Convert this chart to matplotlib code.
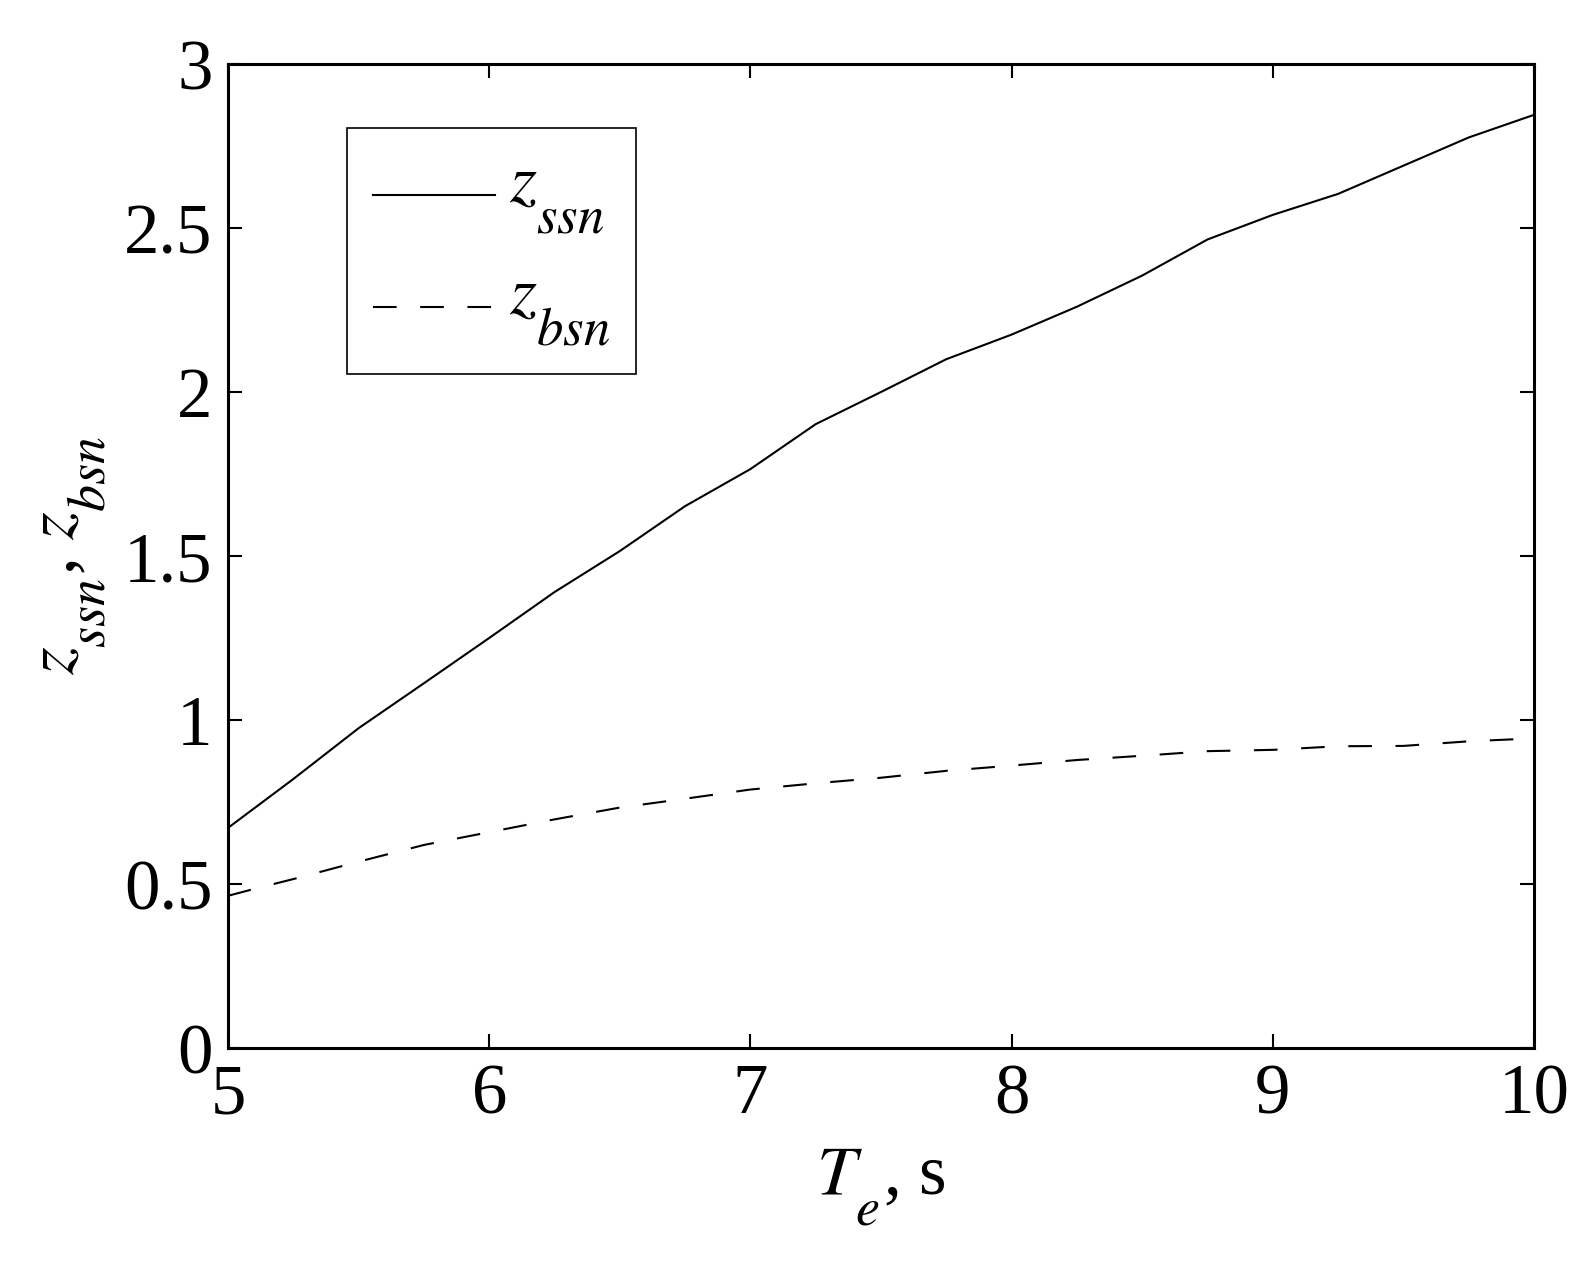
import matplotlib
matplotlib.use("Agg")
import numpy as np
import matplotlib.pyplot as plt
from matplotlib.legend_handler import HandlerLine2D

plt.rcParams['font.family'] = ['Liberation Serif', 'DejaVu Serif']
plt.rcParams['mathtext.fontset'] = 'stix'
plt.rcParams['lines.scale_dashes'] = False

# Deeper, larger subscripts (MATLAB-like look)
try:
    import matplotlib._mathtext as _mt
    _mt.STIXFontConstants.sub1 = 1.0
    _mt.STIXFontConstants.script_space = 0.12
    _mt.SHRINK_FACTOR = 0.76
except Exception:
    pass

# Data
Te = [5.0, 5.25, 5.5, 5.75, 6.0, 6.25, 6.5, 6.75, 7.0, 7.25, 7.5,
      7.75, 8.0, 8.25, 8.5, 8.75, 9.0, 9.25, 9.5, 9.75, 10.0]
z_ssn = [0.671, 0.82, 0.975, 1.112, 1.25, 1.39, 1.515, 1.652, 1.765, 1.902, 2.0,
         2.10, 2.175, 2.26, 2.355, 2.465, 2.54, 2.604, 2.69, 2.776, 2.845]
Te_b = [5.0, 5.1, 5.25, 5.5, 5.75, 6.0, 6.25, 6.5, 6.75, 7.0, 7.25, 7.5,
        7.75, 8.0, 8.25, 8.5, 8.75, 9.0, 9.25, 9.5, 9.75, 10.0]
z_bsn = [0.464, 0.485, 0.515, 0.568, 0.619, 0.658, 0.697, 0.733, 0.760, 0.788, 0.807, 0.824,
         0.845, 0.861, 0.878, 0.891, 0.905, 0.909, 0.920, 0.921, 0.935, 0.944]
xticks = [5, 6, 7, 8, 9, 10]
yticks = [0, 0.5, 1, 1.5, 2, 2.5, 3]
ytick_labels = ['0', '0.5', '1', '1.5', '2', '2.5', '3']


class LoweredLine(HandlerLine2D):
    """Legend line handler drawn a little lower (aligned with z's middle)."""
    def __init__(self, shift=12, **kw):
        super().__init__(**kw)
        self.shift = shift

    def create_artists(self, legend, orig_handle, xdescent, ydescent, width,
                       height, fontsize, trans):
        arts = super().create_artists(legend, orig_handle, xdescent, ydescent,
                                      width, height, fontsize, trans)
        for a in arts:
            a.set_ydata(np.asarray(a.get_ydata(), dtype=float) - self.shift)
        return arts


W, H = 1584, 1273
fig = plt.figure(figsize=(W / 100, H / 100), dpi=100)
ax = fig.add_axes([228 / W, 1 - 1048 / H, (1534 - 228) / W, (1048 - 64) / H])

lw = 1.5
l1, = ax.plot(Te, z_ssn, color='black', lw=lw, linestyle='-', label=r'$z_{ssn}$')
l2, = ax.plot(Te_b, z_bsn, color='black', lw=lw, linestyle=(0, (17, 17)), label=r'$z_{bsn}$')

ax.set_xlim(5, 10)
ax.set_ylim(0, 3)
ax.set_xticks(xticks)
ax.set_xticklabels([str(v) for v in xticks])
ax.set_yticks(yticks)
ax.set_yticklabels(ytick_labels)

for s in ax.spines.values():
    s.set_linewidth(2.2)
ax.tick_params(direction='in', length=10, width=1.5, top=True, right=True,
               labelsize=51)
ax.tick_params(axis='x', pad=11)
ax.tick_params(axis='y', pad=11)

ax.set_xlabel(r'$T_{e}$, s', fontsize=51, labelpad=13)
ax.set_ylabel(r'$z_{ssn}$, $z_{bsn}$', fontsize=51, labelpad=12)

h = LoweredLine(shift=12)
leg = ax.legend(loc='upper left', bbox_to_anchor=(0.091, 0.935), borderaxespad=0,
                fontsize=50, handlelength=1.75, handletextpad=0.2,
                labelspacing=0.42, borderpad=0.38, fancybox=False, framealpha=1,
                edgecolor='black', handler_map={l1: h, l2: h})
leg.get_frame().set_linewidth(1.2)

fig.savefig('out.png', dpi=100, facecolor='white')
